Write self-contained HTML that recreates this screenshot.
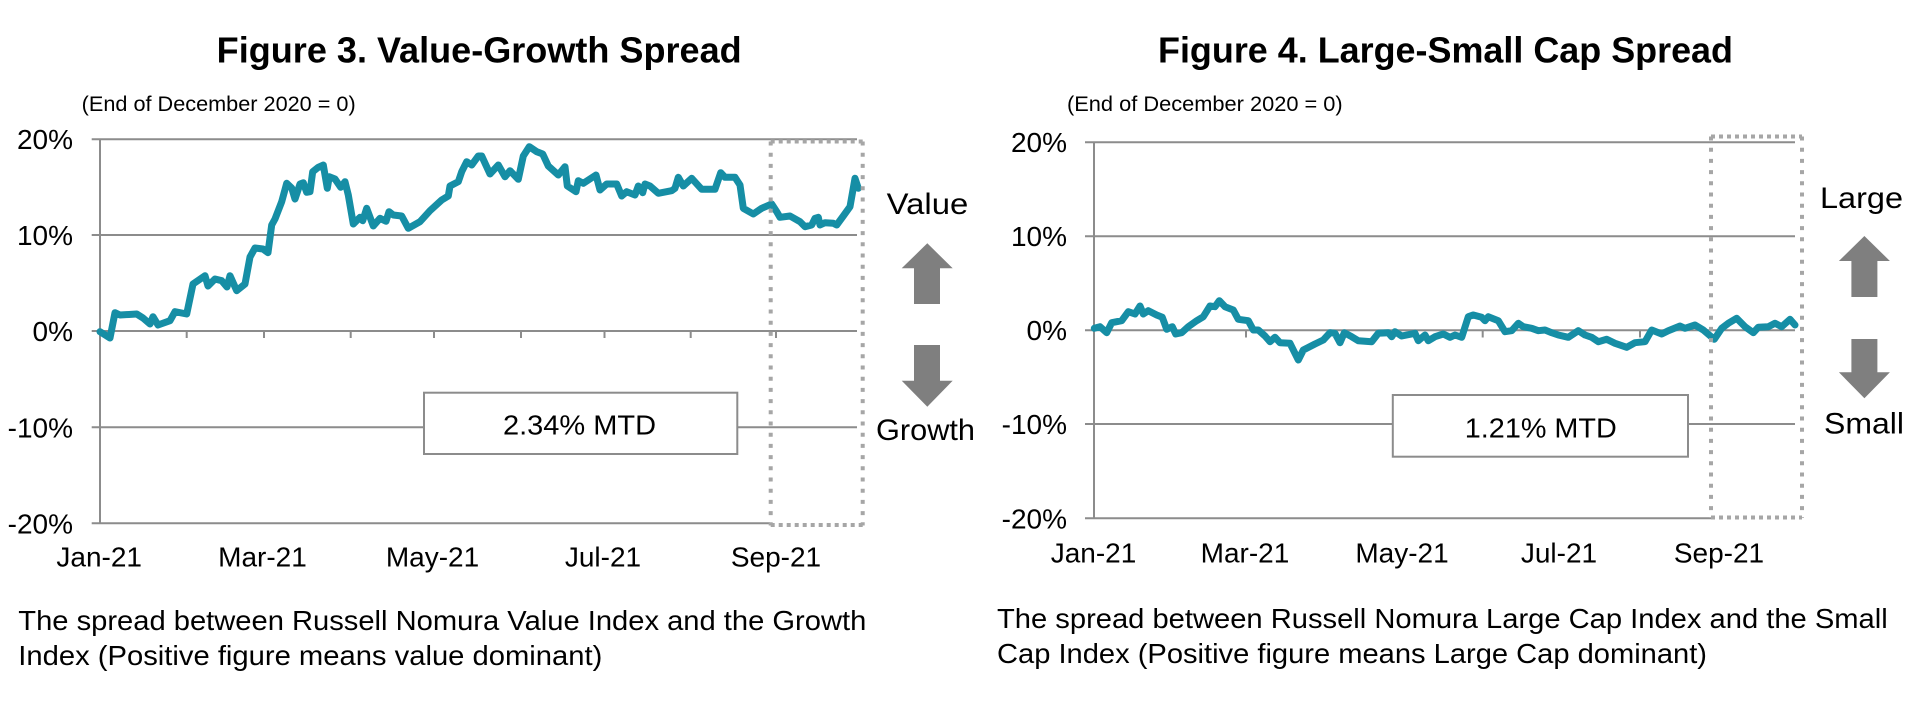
<!DOCTYPE html>
<html>
<head>
<meta charset="utf-8">
<style>
html,body{margin:0;padding:0;background:#fff;}
svg{display:block;}
text{font-family:"Liberation Sans",Arial,sans-serif;fill:#000;}
</style>
</head>
<body>
<svg width="1920" height="706" viewBox="0 0 1920 706" xmlns="http://www.w3.org/2000/svg">
<rect x="0" y="0" width="1920" height="706" fill="#fff"/>

<!-- ================= LEFT CHART ================= -->
<text x="216.7" y="62.5" font-size="36" font-weight="bold" textLength="525" lengthAdjust="spacingAndGlyphs">Figure 3. Value-Growth Spread</text>
<text x="81.7" y="111" font-size="21" textLength="274" lengthAdjust="spacingAndGlyphs">(End of December 2020 = 0)</text>

<!-- gridlines -->
<g stroke="#8c8c8c" stroke-width="2" fill="none">
  <line x1="91.7" y1="139.3" x2="857" y2="139.3"/>
  <line x1="91.7" y1="235" x2="857" y2="235"/>
  <line x1="91.7" y1="331" x2="857" y2="331"/>
  <line x1="91.7" y1="427.3" x2="857" y2="427.3"/>
  <line x1="91.7" y1="523.3" x2="770" y2="523.3"/>
  <line x1="100" y1="139.3" x2="100" y2="523.3"/>
  <!-- ticks -->
  <line x1="186.7" y1="331" x2="186.7" y2="338"/>
  <line x1="264" y1="331" x2="264" y2="338"/>
  <line x1="350.7" y1="331" x2="350.7" y2="338"/>
  <line x1="434" y1="331" x2="434" y2="338"/>
  <line x1="521" y1="331" x2="521" y2="338"/>
  <line x1="604.5" y1="331" x2="604.5" y2="338"/>
  <line x1="690.7" y1="331" x2="690.7" y2="338"/>
  <line x1="776" y1="331" x2="776" y2="338"/>
</g>

<!-- y labels -->
<g font-size="28" text-anchor="end">
  <text x="73" y="149">20%</text>
  <text x="73" y="245">10%</text>
  <text x="73" y="341">0%</text>
  <text x="73" y="437.3">-10%</text>
  <text x="73" y="533.3">-20%</text>
</g>
<!-- x labels -->
<g font-size="28" text-anchor="middle">
  <text x="99.2" y="566.7">Jan-21</text>
  <text x="262.5" y="566.7">Mar-21</text>
  <text x="432.5" y="566.7">May-21</text>
  <text x="603" y="566.7">Jul-21</text>
  <text x="776" y="566.7">Sep-21</text>
</g>

<!-- MTD box -->
<rect x="424" y="392.7" width="313.3" height="61.3" fill="#fff" stroke="#8c8c8c" stroke-width="2"/>
<text x="503" y="434.7" font-size="28" textLength="153" lengthAdjust="spacingAndGlyphs">2.34% MTD</text>

<!-- series -->
<polyline fill="none" stroke="#168ea5" stroke-width="7" stroke-linejoin="round" stroke-linecap="round" points="
100,331.7 110,338 115,312.7 120,315 136.7,314 143,318 150,324 153,316.7 158,325 170,320.7 175,311.7 186.7,314
193,284 205,275.7 208,286 215,279 221.7,280.7 227,287 230,275.7 236.7,290.7 245,284 250,257 255,248 263,249
268,252.7 271.7,225 275,219 281.7,201.7 286.7,183.3 291.7,188 295,199 300,184 303.3,182.7 306.7,192.3 310,191.7
312.7,171.7 318.3,167.3 323.3,165 327.3,188.3 329.3,176.7 335,179 340.7,187.3 345,181.7 348.3,195 353.3,224
360,217.3 362.7,220.7 366.7,208.3 373.3,226 380,218.3 386,221.3 389,211.7 393.3,215 401.7,216 408.3,228.3
420,221.7 430,210.7 441.7,200 448.3,196 450,186 458.3,181.7 461.7,171.7 466.7,161.7 471.7,165 478.3,156
481.7,156 490,174 498.3,165 505,176.7 510,170.7 518.3,179.3 523.3,156 529.3,146.7 536.7,151.7 542.7,154
548.3,166 558.3,175 565,166.7 567.3,186 576,191.7 578.3,180.7 583.3,183.3 596,175 600,190 606.7,184 616.7,184
621.7,196 626.7,191.7 635,195 638.3,186 642.7,192.7 645,184 650,186 658.3,193.3 671.7,190.7 675,188.3
678.3,177.3 683.3,186 691.7,178.3 701.7,189.3 715,189.3 720.7,172.7 725,177.3 735,177.3 740,185 743.3,208.3
753.3,214 761.7,208.3 771.7,204 776.7,211.7 780,217.3 790,216 800,221.7 805,226.7 811.7,225 815,218.3
818.3,217.3 820,225 825,222.7 833.3,223.3 836.7,225 843.3,216 850,206.7 855,178.3 858.3,188.3"/>

<!-- dotted highlight box -->
<g stroke="#a6a6a6" stroke-width="4" fill="none">
  <line x1="770.7" y1="141.5" x2="770.7" y2="525.5" stroke-dasharray="4 7.2"/>
  <line x1="862.7" y1="141.5" x2="862.7" y2="525.5" stroke-dasharray="4 7.2"/>
  <line x1="770.7" y1="141.5" x2="862.7" y2="141.5" stroke-dasharray="4 4"/>
  <line x1="770.7" y1="525" x2="862.7" y2="525" stroke-dasharray="4 4"/>
</g>

<!-- side labels & arrows -->
<text x="886.7" y="214" font-size="30" textLength="81.6" lengthAdjust="spacingAndGlyphs">Value</text>
<text x="876" y="440" font-size="30" textLength="99" lengthAdjust="spacingAndGlyphs">Growth</text>
<polygon fill="#7f7f7f" points="927.3,243.3 952.7,268.3 940,268.3 940,304 914,304 914,268.3 901.7,268.3"/>
<polygon fill="#7f7f7f" points="914,345 940,345 940,380.7 952.7,380.7 927.3,406.7 901.7,380.7 914,380.7"/>

<!-- caption -->
<text x="18.3" y="630" font-size="28" textLength="848" lengthAdjust="spacingAndGlyphs">The spread between Russell Nomura Value Index and the Growth</text>
<text x="18.3" y="665" font-size="28" textLength="584" lengthAdjust="spacingAndGlyphs">Index (Positive figure means value dominant)</text>

<!-- ================= RIGHT CHART ================= -->
<text x="1158" y="62.5" font-size="36" font-weight="bold" textLength="575" lengthAdjust="spacingAndGlyphs">Figure 4. Large-Small Cap Spread</text>
<text x="1067" y="111" font-size="21" textLength="275.7" lengthAdjust="spacingAndGlyphs">(End of December 2020 = 0)</text>

<g stroke="#8c8c8c" stroke-width="2" fill="none">
  <line x1="1085" y1="142.3" x2="1795" y2="142.3"/>
  <line x1="1085" y1="236.3" x2="1795" y2="236.3"/>
  <line x1="1085" y1="330.3" x2="1795" y2="330.3"/>
  <line x1="1085" y1="424" x2="1795" y2="424"/>
  <line x1="1085" y1="518.3" x2="1711" y2="518.3"/>
  <line x1="1094" y1="142.3" x2="1094" y2="518.3"/>
  <line x1="1246" y1="330.3" x2="1246" y2="337.5"/>
  <line x1="1482.7" y1="330.3" x2="1482.7" y2="337.5"/>
  <line x1="1640" y1="330.3" x2="1640" y2="337.5"/>
</g>

<g font-size="28" text-anchor="end">
  <text x="1067" y="152">20%</text>
  <text x="1067" y="246">10%</text>
  <text x="1067" y="340">0%</text>
  <text x="1067" y="434">-10%</text>
  <text x="1067" y="528.3">-20%</text>
</g>
<g font-size="28" text-anchor="middle">
  <text x="1093.5" y="562.5">Jan-21</text>
  <text x="1245" y="562.5">Mar-21</text>
  <text x="1402" y="562.5">May-21</text>
  <text x="1559" y="562.5">Jul-21</text>
  <text x="1719" y="562.5">Sep-21</text>
</g>

<rect x="1392.8" y="395" width="295.2" height="61.7" fill="#fff" stroke="#8c8c8c" stroke-width="2"/>
<text x="1464.8" y="437.3" font-size="28" textLength="152" lengthAdjust="spacingAndGlyphs">1.21% MTD</text>

<polyline fill="none" stroke="#168ea5" stroke-width="7" stroke-linejoin="round" stroke-linecap="round" points="
1094.3,328.3 1100,326.7 1106.7,332.7 1111.7,322.7 1121.7,320.7 1128.3,311.7 1135,314 1140,306 1143.3,314
1148.3,310.7 1156.7,315 1162.3,317.3 1166.7,329.3 1172.3,326.7 1175.7,334 1181.7,332.7 1188.3,326.7
1196.7,320.7 1203.3,316.7 1210,306 1215,306.7 1219.3,300.7 1225,306.7 1233.3,310 1238.3,319.3 1248.3,320.7
1253.3,330 1258.3,330 1265,336 1270,341.7 1275,337.3 1280,342.7 1290,343.3 1298.3,360 1303.3,350 1315,344
1323.3,340 1330,332.7 1335,333.3 1340,342.7 1344.3,332.7 1351.7,336.7 1358.3,340.7 1371.7,341.7 1378.3,333.3
1388.3,332.7 1391.7,336.7 1395,331.7 1401.7,336 1415,333.3 1418.3,340.7 1425,335 1428.3,340.7 1435,336.7
1443.3,334 1450,337.3 1455,335 1461.7,337.3 1468.3,316.7 1473.3,315 1481.7,317.3 1485,320.7 1488.3,316.7
1498.3,320.7 1505,331.7 1511.7,330.7 1518.3,323.3 1523.3,326.7 1531.7,328.3 1538.3,330.7 1545,330
1551.7,332.7 1558.3,335 1568.3,337.3 1578.3,330.7 1585,335 1591.7,337.3 1598.3,341.7 1606.7,339.3
1615,343.3 1626.7,347.3 1635,342.7 1645,341.7 1651.7,330 1661.7,334 1668.3,330.7 1680,326 1685,328.3
1695,325 1703.3,330 1714.3,339.3 1721.7,328.3 1728.3,323.3 1736.7,318.3 1745,326.7 1753.3,332.7
1758.3,327.3 1768.3,326.7 1775,323.3 1781.7,326.7 1790,319.3 1795,325"/>

<g stroke="#a6a6a6" stroke-width="4" fill="none">
  <line x1="1711" y1="136.5" x2="1711" y2="518" stroke-dasharray="4 7.2"/>
  <line x1="1802" y1="136.5" x2="1802" y2="518" stroke-dasharray="4 7.2"/>
  <line x1="1711" y1="136.5" x2="1802" y2="136.5" stroke-dasharray="4 4"/>
  <line x1="1711" y1="517.5" x2="1802" y2="517.5" stroke-dasharray="4 4"/>
</g>

<text x="1820" y="208" font-size="30" textLength="83" lengthAdjust="spacingAndGlyphs">Large</text>
<text x="1824" y="433.3" font-size="30" textLength="80" lengthAdjust="spacingAndGlyphs">Small</text>
<polygon fill="#7f7f7f" points="1864.4,236 1889.9,261 1877.4,261 1877.4,297 1851.4,297 1851.4,261 1838.9,261"/>
<polygon fill="#7f7f7f" points="1851.4,339 1877.4,339 1877.4,372.3 1889.9,372.3 1864.4,398.3 1838.9,372.3 1851.4,372.3"/>

<text x="997" y="628" font-size="28" textLength="890.7" lengthAdjust="spacingAndGlyphs">The spread between Russell Nomura Large Cap Index and the Small</text>
<text x="997" y="663" font-size="28" textLength="710" lengthAdjust="spacingAndGlyphs">Cap Index (Positive figure means Large Cap dominant)</text>
</svg>
</body>
</html>
